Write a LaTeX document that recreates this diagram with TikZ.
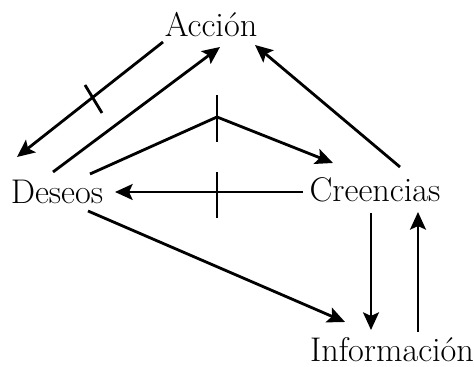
\documentclass[tikz,border=0pt]{standalone}
\usetikzlibrary{arrows.meta}
\begin{document}
\begin{tikzpicture}[x=0.02cm,y=-0.02cm,
  lbl/.style={inner sep=0pt,font=\fontsize{19.5}{22}\selectfont},
  arr/.style={line width=1.6pt,-{Stealth[length=10pt,width=9pt,inset=2pt]}},
  tick/.style={line width=1.6pt}]
\useasboundingbox (0,0) rectangle (474,367);
\node[lbl] (acc) at (211,25) {Acción};
\node[lbl] (des) at (57,192) {Deseos};
\node[lbl] (cre) at (375,190) {Creencias};
\node[lbl] (inf) at (392,350) {Información};
% end points
\coordinate (a1) at (163,42); \coordinate (d1) at (17,157);
\coordinate (d2) at (53,172); \coordinate (a2) at (220,47);
\coordinate (d3) at (90,174); \coordinate (apex) at (217,117); \coordinate (c3) at (333,163);
\coordinate (c4) at (400,167); \coordinate (a4) at (255,45);
\coordinate (c5) at (303,192); \coordinate (d5) at (115,192);
\coordinate (d6) at (88,211); \coordinate (i6) at (345,322);
\coordinate (c7) at (371,213); \coordinate (i7) at (371,330);
\coordinate (i8) at (418,332); \coordinate (c8) at (418,212);
\coordinate (t1a) at (85,85); \coordinate (t1b) at (102,113);
\coordinate (t2a) at (217,95); \coordinate (t2b) at (217,142);
\coordinate (t3a) at (217,172); \coordinate (t3b) at (217,218);
\draw[arr] (a1) -- (d1);
\draw[arr] (d2) -- (a2);
\draw[arr] (d3) -- (apex) -- (c3);
\draw[arr] (c4) -- (a4);
\draw[arr] (c5) -- (d5);
\draw[arr] (d6) -- (i6);
\draw[arr] (c7) -- (i7);
\draw[arr] (i8) -- (c8);
\draw[tick] (t1a) -- (t1b);
\draw[tick] (t2a) -- (t2b);
\draw[tick] (t3a) -- (t3b);
\end{tikzpicture}
\end{document}
